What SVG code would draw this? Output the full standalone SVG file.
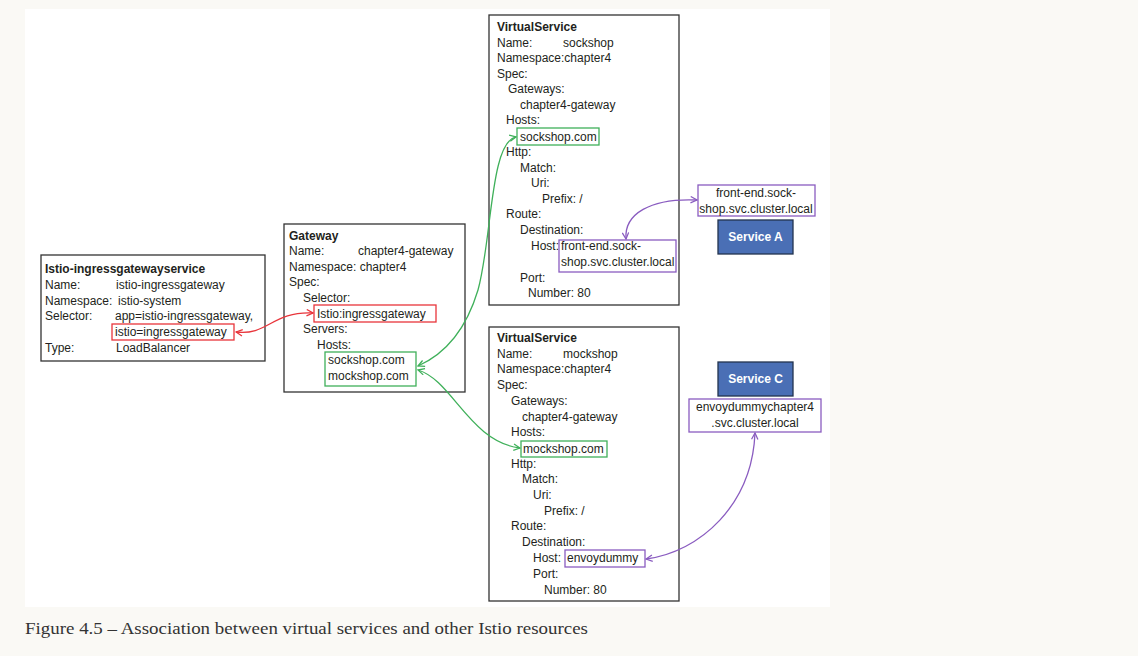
<svg xmlns="http://www.w3.org/2000/svg" width="1138" height="656" viewBox="0 0 1138 656">
<defs>
<style>
.t{font-family:"Liberation Sans",Arial,sans-serif;font-size:12px;fill:#231f20}
.b{font-weight:bold}
.box{fill:none;stroke:#333;stroke-width:1.3}
.red{fill:none;stroke:#e8353b;stroke-width:1.3}
.grn{fill:none;stroke:#3fb05a;stroke-width:1.3}
.pur{fill:none;stroke:#8a5cc0;stroke-width:1.3}
.svc{fill:#4a6fb5;stroke:#23334f;stroke-width:1.3}
.st{font-family:"Liberation Sans",Arial,sans-serif;font-size:12px;font-weight:bold;fill:#fff;text-anchor:middle}
.c{text-anchor:middle}
</style>
<marker id="ar" viewBox="0 0 10 10" refX="9" refY="5" markerWidth="8" markerHeight="8" markerUnits="userSpaceOnUse" orient="auto-start-reverse"><path d="M1 1 L9 5 L1 9" fill="none" stroke="#e8353b" stroke-width="1.6"/></marker>
<marker id="ag" viewBox="0 0 10 10" refX="9" refY="5" markerWidth="8" markerHeight="8" markerUnits="userSpaceOnUse" orient="auto-start-reverse"><path d="M1 1 L9 5 L1 9" fill="none" stroke="#3fb05a" stroke-width="1.6"/></marker>
<marker id="ap" viewBox="0 0 10 10" refX="9" refY="5" markerWidth="8" markerHeight="8" markerUnits="userSpaceOnUse" orient="auto-start-reverse"><path d="M1 1 L9 5 L1 9" fill="none" stroke="#8a5cc0" stroke-width="1.6"/></marker>
</defs>
<rect x="0" y="0" width="1138" height="656" fill="#faf9f5"/>
<rect x="25" y="9" width="805" height="598" fill="#ffffff"/>

<g id="ingress-service">
<rect class="box" x="41" y="255" width="224" height="106"/>
<text class="t b" x="45" y="273">Istio-ingressgatewayservice</text>
<text class="t" x="45" y="289">Name:</text><text class="t" x="116" y="289">istio-ingressgateway</text>
<text class="t" x="45" y="305">Namespace:</text><text class="t" x="118" y="305">istio-system</text>
<text class="t" x="45" y="320">Selector:</text><text class="t" x="115" y="320">app=istio-ingressgateway,</text>
<rect class="red" x="112" y="324" width="122" height="16"/>
<text class="t" x="115" y="336">istio=ingressgateway</text>
<text class="t" x="45" y="352">Type:</text><text class="t" x="116" y="352">LoadBalancer</text>
</g>

<g id="gateway">
<rect class="box" x="284" y="224" width="181" height="168"/>
<text class="t b" x="289" y="240">Gateway</text>
<text class="t" x="289" y="255">Name:</text><text class="t" x="358" y="255">chapter4-gateway</text>
<text class="t" x="289" y="271">Namespace: chapter4</text>
<text class="t" x="289" y="286">Spec:</text>
<text class="t" x="303" y="302">Selector:</text>
<rect class="red" x="314" y="305" width="122" height="17"/>
<text class="t" x="317" y="318">Istio:ingressgateway</text>
<text class="t" x="303" y="333">Servers:</text>
<text class="t" x="317" y="349">Hosts:</text>
<rect class="grn" x="325" y="352" width="91" height="34"/>
<text class="t" x="328" y="364">sockshop.com</text>
<text class="t" x="328" y="380">mockshop.com</text>
</g>

<g id="vs-sockshop">
<rect class="box" x="489" y="15" width="190" height="290"/>
<text class="t b" x="497" y="31">VirtualService</text>
<text class="t" x="497" y="47">Name:</text><text class="t" x="563" y="47">sockshop</text>
<text class="t" x="497" y="62">Namespace:chapter4</text>
<text class="t" x="497" y="78">Spec:</text>
<text class="t" x="508" y="93">Gateways:</text>
<text class="t" x="520" y="109">chapter4-gateway</text>
<text class="t" x="506" y="124">Hosts:</text>
<rect class="grn" x="517" y="128" width="82" height="17"/>
<text class="t" x="520" y="141">sockshop.com</text>
<text class="t" x="506" y="156">Http:</text>
<text class="t" x="520" y="172">Match:</text>
<text class="t" x="531" y="187">Uri:</text>
<text class="t" x="542" y="203">Prefix: /</text>
<text class="t" x="506" y="218">Route:</text>
<text class="t" x="520" y="234">Destination:</text>
<text class="t" x="531" y="250">Host:</text>
<rect class="pur" x="559" y="240" width="117" height="32"/>
<text class="t" x="561" y="250">front-end.sock-</text>
<text class="t" x="561" y="266">shop.svc.cluster.local</text>
<text class="t" x="520" y="282">Port:</text>
<text class="t" x="528" y="297">Number: 80</text>
</g>

<g id="vs-mockshop">
<rect class="box" x="489" y="327" width="190" height="274"/>
<text class="t b" x="497" y="342">VirtualService</text>
<text class="t" x="497" y="358">Name:</text><text class="t" x="563" y="358">mockshop</text>
<text class="t" x="497" y="373">Namespace:chapter4</text>
<text class="t" x="497" y="389">Spec:</text>
<text class="t" x="511" y="405">Gateways:</text>
<text class="t" x="522" y="421">chapter4-gateway</text>
<text class="t" x="511" y="436">Hosts:</text>
<rect class="grn" x="521" y="441" width="86" height="16"/>
<text class="t" x="523" y="453">mockshop.com</text>
<text class="t" x="511" y="468">Http:</text>
<text class="t" x="522" y="483">Match:</text>
<text class="t" x="533" y="499">Uri:</text>
<text class="t" x="544" y="515">Prefix: /</text>
<text class="t" x="511" y="530">Route:</text>
<text class="t" x="522" y="546">Destination:</text>
<text class="t" x="533" y="562">Host:</text>
<rect class="pur" x="565" y="550" width="80" height="17"/>
<text class="t" x="567" y="562">envoydummy</text>
<text class="t" x="533" y="578">Port:</text>
<text class="t" x="544" y="594">Number: 80</text>
</g>

<g id="service-a">
<rect class="pur" x="698" y="185" width="117" height="31"/>
<text class="t c" x="756" y="197">front-end.sock-</text>
<text class="t c" x="756" y="213">shop.svc.cluster.local</text>
<rect class="svc" x="718" y="220" width="75" height="34"/>
<text class="st" x="755.5" y="241">Service A</text>
</g>

<g id="service-c">
<rect class="svc" x="718" y="362" width="75" height="34"/>
<text class="st" x="755.5" y="383">Service C</text>
<rect class="pur" x="689" y="399" width="132" height="33"/>
<text class="t c" x="755" y="411">envoydummychapter4</text>
<text class="t c" x="755" y="427">.svc.cluster.local</text>
</g>

<g id="connectors">
<path class="red" d="M236 332 C268 336 272 311 313 313" marker-start="url(#ar)" marker-end="url(#ar)"/>
<path class="grn" d="M418 366 C445 354 466 330 478 290 C492 240 490 142 516 137" marker-start="url(#ag)" marker-end="url(#ag)"/>
<path class="grn" d="M418 370 C452 380 470 442 520 448" marker-start="url(#ag)" marker-end="url(#ag)"/>
<path class="pur" d="M626 239 C624 214 650 198 697 200" marker-start="url(#ap)" marker-end="url(#ap)"/>
<path class="pur" d="M646 559 C700 552 752 505 755 433" marker-start="url(#ap)" marker-end="url(#ap)"/>
</g>

<text x="25" y="634" font-family="'Liberation Serif','Times New Roman',serif" font-size="17" fill="#333" textLength="563" lengthAdjust="spacingAndGlyphs">Figure 4.5 – Association between virtual services and other Istio resources</text>
</svg>
